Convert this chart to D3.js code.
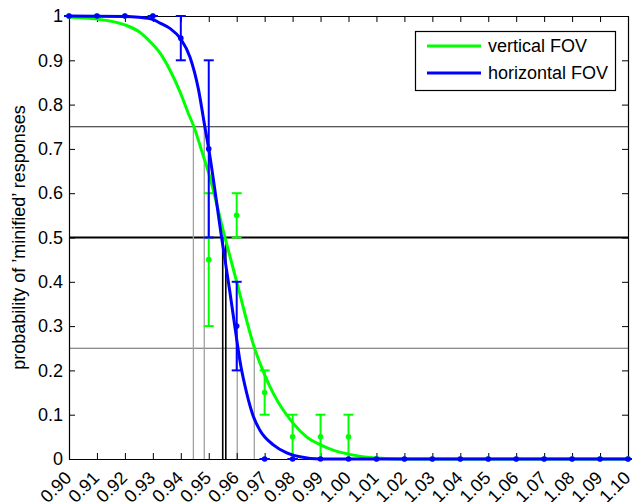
<!DOCTYPE html>
<html>
<head>
<meta charset="utf-8">
<script src="https://cdn.jsdelivr.net/npm/d3@7"></script>
<style>
  html, body { margin: 0; padding: 0; background: #fff; }
  svg { display: block; font-family: "Liberation Sans", Arial, Helvetica, sans-serif; }
</style>
</head>
<body>
<svg id="chart" width="632" height="502"></svg>
<script>
// ---------- data ----------
const xTicks = [0.90,0.91,0.92,0.93,0.94,0.95,0.96,0.97,0.98,0.99,1.00,1.01,1.02,1.03,1.04,1.05,1.06,1.07,1.08,1.09,1.10];
const yTicks = [0,0.1,0.2,0.3,0.4,0.5,0.6,0.7,0.8,0.9,1];
const xTickLabels = ["0.90","0.91","0.92","0.93","0.94","0.95","0.96","0.97","0.98","0.99","1.00","1.01","1.02","1.03","1.04","1.05","1.06","1.07","1.08","1.09","1.10"];
const yTickLabels = ["0","0.1","0.2","0.3","0.4","0.5","0.6","0.7","0.8","0.9","1"];

// measured points (x = scale ratio)
const pointX    = [0.90,0.91,0.92,0.93,0.94,0.95,0.96,0.97,0.98,0.99,1.00,1.01,1.02,1.03,1.04,1.05,1.06,1.07,1.08,1.09,1.10];
const blueMean  = [1,1,1,1,0.95,0.70,0.30,0,0,0,0,0,0,0,0,0,0,0,0,0,0];
const blueLow   = [1,1,1,1,0.90,0.50,0.20,0,0,0,0,0,0,0,0,0,0,0,0,0,0];
const blueHigh  = [1,1,1,1,1.00,0.90,0.40,0,0,0,0,0,0,0,0,0,0,0,0,0,0];
const greenMean = [1,1,1,1,null,0.45,0.55,0.15,0.05,0.05,0.05,0,0,0,0,0,0,0,0,0,0];
const greenLow  = [1,1,1,1,null,0.30,0.50,0.10,0,0,0,0,0,0,0,0,0,0,0,0,0];
const greenHigh = [1,1,1,1,null,0.60,0.60,0.20,0.10,0.10,0.10,0,0,0,0,0,0,0,0,0,0];

// fitted psychometric curves
const greenCurveX = [0.90,0.91,0.92,0.9254,0.929,0.9326,0.9361,0.9397,0.9427,0.9447,0.9475,0.95,0.9558,0.96,0.9665,0.97,0.9731,0.98,0.985,0.99,0.995,1.00,1.005,1.01,1.02,1.10];
const greenCurveY = [0.997,0.993,0.980,0.963,0.942,0.916,0.878,0.829,0.780,0.75,0.695,0.645,0.50,0.40,0.248,0.19,0.148,0.082,0.050,0.032,0.019,0.011,0.005,0.002,0,0];
const blueCurveX  = [0.90,0.92,0.925,0.93,0.9326,0.9361,0.94,0.9433,0.9463,0.9486,0.95,0.9546,0.9575,0.96,0.9612,0.9636,0.9659,0.9683,0.9731,0.9779,0.9826,0.99,1.10];
const blueCurveY  = [1,0.999,0.997,0.992,0.984,0.972,0.948,0.907,0.835,0.75,0.70,0.50,0.38,0.27,0.22,0.148,0.097,0.065,0.032,0.014,0.005,0,0];

// threshold reference lines
const refLevels = [0.75, 0.5, 0.25];
const thresholds75 = [0.9445, 0.9484];
const thresholds50 = [0.9550, 0.9561];
const thresholds25 = [0.9602, 0.9663];

const seriesNames = ["vertical FOV", "horizontal FOV"];
const seriesColors = ["#00ff00", "#0000ff"];
const yLabel = "probability of \u2019minified\u2019 responses";

// ---------- layout ----------
const L = 69, R = 628, T = 16, B = 459;
const svg = d3.select("#chart");
const x = d3.scaleLinear().domain([0.90, 1.10]).range([L, R]);
const y = d3.scaleLinear().domain([0, 1]).range([B, T]);
const FS = 18;

// reference lines (under data)
const ref = svg.append("g");
ref.selectAll("line.h").data(refLevels).enter().append("line")
  .attr("x1", L).attr("x2", R)
  .attr("y1", d => y(d)).attr("y2", d => y(d))
  .attr("stroke", d => d === 0.5 ? "#000" : (d === 0.75 ? "#222" : "#666"))
  .attr("stroke-width", d => d === 0.5 ? 2 : 1.2);
function vlines(arr, level, color, w) {
  ref.selectAll(null).data(arr).enter().append("line")
    .attr("x1", d => x(d)).attr("x2", d => x(d))
    .attr("y1", y(0)).attr("y2", y(level))
    .attr("stroke", color).attr("stroke-width", w);
}
vlines(thresholds75, 0.75, "#a0a0a0", 1.3);
vlines(thresholds25, 0.25, "#a0a0a0", 1.3);
vlines(thresholds50, 0.5, "#000", 1.6);

// axes box with inward ticks
const gx = svg.append("g").attr("transform", `translate(0,${B})`)
  .call(d3.axisBottom(x).tickValues(xTicks).tickSizeInner(-6).tickSizeOuter(0)
    .tickFormat((d, i) => xTickLabels[i]));
gx.selectAll("text")
  .attr("x", 0).attr("y", 0).attr("dy", 0)
  .attr("text-anchor", "end")
  .attr("transform", "translate(3,20) rotate(-45)");
const gt = svg.append("g").attr("transform", `translate(0,${T})`)
  .call(d3.axisTop(x).tickValues(xTicks).tickSizeInner(-6).tickSizeOuter(0).tickFormat(""));
const gy = svg.append("g").attr("transform", `translate(${L},0)`)
  .call(d3.axisLeft(y).tickValues(yTicks).tickSizeInner(-6).tickSizeOuter(0).tickPadding(6)
    .tickFormat((d, i) => yTickLabels[i]));
const gr = svg.append("g").attr("transform", `translate(${R},0)`)
  .call(d3.axisRight(y).tickValues(yTicks).tickSizeInner(-6).tickSizeOuter(0).tickFormat(""));
[gx, gt, gy, gr].forEach(g => {
  g.selectAll("text").attr("font-size", FS).attr("fill", "#000")
    .attr("font-family", "'Liberation Sans', Arial, Helvetica, sans-serif");
  g.selectAll("line").attr("stroke", "#000");
  g.select(".domain").attr("stroke", "#000").attr("stroke-width", 1.2);
});

// y label
svg.append("text")
  .attr("transform", `translate(25,${(T + B) / 2}) rotate(-90)`)
  .attr("text-anchor", "middle")
  .attr("font-size", FS)
  .text(yLabel);

// series
const line = d3.line().x(d => x(d[0])).y(d => y(d[1])).curve(d3.curveMonotoneX);
function drawSeries(cx, cy, mean, lo, hi, color, capW) {
  const g = svg.append("g");
  g.append("path").datum(cx.map((v, i) => [v, cy[i]]))
    .attr("d", line).attr("fill", "none").attr("stroke", color)
    .attr("stroke-width", 3).attr("stroke-linejoin", "round");
  const pts = pointX.map((v, i) => ({x: v, m: mean[i], lo: lo[i], hi: hi[i]})).filter(d => d.m !== null);
  const eb = g.selectAll("g.eb").data(pts).enter().append("g");
  eb.append("line").attr("x1", d => x(d.x)).attr("x2", d => x(d.x))
    .attr("y1", d => y(d.lo)).attr("y2", d => y(d.hi))
    .attr("stroke", color).attr("stroke-width", 2);
  eb.append("line").attr("x1", d => x(d.x) - capW).attr("x2", d => x(d.x) + capW)
    .attr("y1", d => y(d.lo)).attr("y2", d => y(d.lo))
    .attr("stroke", color).attr("stroke-width", 2);
  eb.append("line").attr("x1", d => x(d.x) - capW).attr("x2", d => x(d.x) + capW)
    .attr("y1", d => y(d.hi)).attr("y2", d => y(d.hi))
    .attr("stroke", color).attr("stroke-width", 2);
  eb.append("circle").attr("cx", d => x(d.x)).attr("cy", d => y(d.m))
    .attr("r", 2.8).attr("fill", color);
}
drawSeries(greenCurveX, greenCurveY, greenMean, greenLow, greenHigh, seriesColors[0], 5);
drawSeries(blueCurveX, blueCurveY, blueMean, blueLow, blueHigh, seriesColors[1], 5);

// legend
const lg = svg.append("g");
lg.append("rect").attr("x", 415.5).attr("y", 31.5).attr("width", 200).attr("height", 59)
  .attr("fill", "#fff").attr("stroke", "#000").attr("stroke-width", 1.2);
seriesNames.forEach((name, i) => {
  const yy = 46 + i * 27;
  lg.append("line").attr("x1", 427).attr("x2", 481).attr("y1", yy).attr("y2", yy)
    .attr("stroke", seriesColors[i]).attr("stroke-width", 3);
  lg.append("text").attr("x", 488).attr("y", yy).attr("dy", "0.36em")
    .attr("font-size", FS).text(name);
});
</script>
</body>
</html>
